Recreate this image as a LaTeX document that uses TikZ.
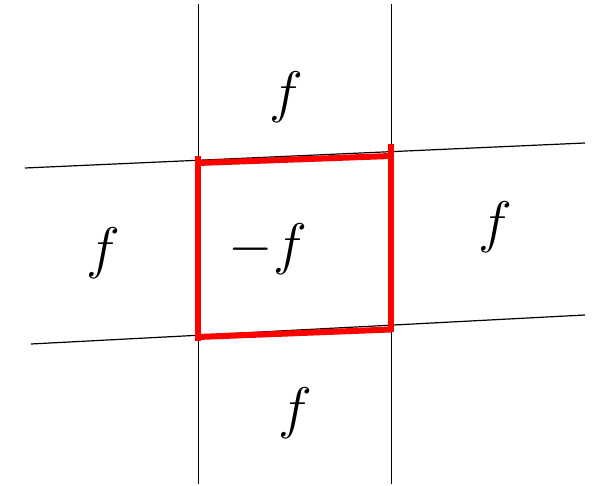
\documentclass[tikz,border=0pt]{standalone}
\usepackage{amsmath}
\usepackage{xcolor}
\newcommand{\cellval}[1]{\scalebox{1.15}{$#1$}}

\begin{document}
\begin{tikzpicture}[x=0.5pt, y=-0.5pt,
    gridline/.style={line width=0.6pt, black},
    redbox/.style={line width=3pt, red},
    cell/.style={font=\Huge, inner sep=0pt}]
        \useasboundingbox (0,0) rectangle (602,486);
        % grid lines
        \draw[gridline] (198.5,4) -- (198.5,484);
        \draw[gridline] (391.5,4) -- (391.5,484);
        \draw[gridline] (25,168) -- (585,143);
        \draw[gridline] (31,344) -- (585,315);
        % red cell
        \draw[redbox] (198,156) -- (198,341);
        \draw[redbox] (391,144) -- (391,332);
        \draw[redbox] (198,163) -- (391,156);
        \draw[redbox] (198,337) -- (391,329.5);
        % labels
        \node[cell] (top) at (286,97) {\cellval{f}};
        \node[cell] (left) at (103,253) {\cellval{f}};
        \node[cell] (mid) at (268,249) {\cellval{-f}};
        \node[cell] (right) at (495,227) {\cellval{f}};
        \node[cell] (bottom) at (295,413) {\cellval{f}};
    \end{tikzpicture}
\end{document}
